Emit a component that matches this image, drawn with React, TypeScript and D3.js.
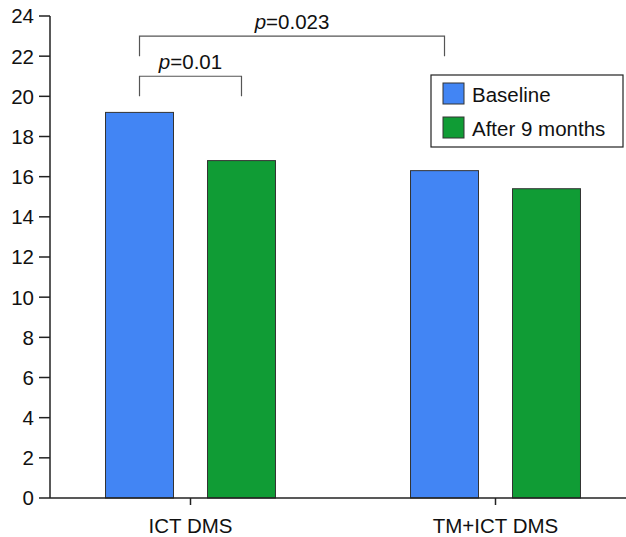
import React from "react";
import * as d3 from "d3";

const categories = ["ICT DMS", "TM+ICT DMS"];
const seriesNames = ["Baseline", "After 9 months"];
const baselineValues = [19.2, 16.3];
const afterValues = [16.8, 15.4];
const yTicks = [0, 2, 4, 6, 8, 10, 12, 14, 16, 18, 20, 22, 24];
const colors = ["#4285f4", "#109c35"];
const brackets = [
  { label: "0.01", from: [0, 0], to: [0, 1], yEnd: 20, yTop: 21 },
  { label: "0.023", from: [0, 0], to: [1, 0], yEnd: 22, yTop: 23 },
];

export default function App() {
  const W = 626, H = 537;
  const font = "Liberation Sans, Arial, sans-serif";
  const fs = 20.5;
  const y = d3.scaleLinear().domain([0, 24]).range([498, 16]);
  const x0 = d3.scaleBand<string>().domain(categories).range([38, 648]).padding(0);
  const x1 = d3.scaleBand<string>().domain(seriesNames).range([0, x0.bandwidth()]).paddingInner(1 / 3).paddingOuter(0.662);
  const values = [baselineValues, afterValues];
  const cx = (ci: number, si: number) => (x0(categories[ci]) as number) + (x1(seriesNames[si]) as number) + x1.bandwidth() / 2;
  const axisX = 50;
  return (
    <svg width={W} height={H} style={{ position: "absolute", left: 0, top: 0, background: "#fff" }} fontFamily={font}>
      {/* bars */}
      {categories.map((c, ci) =>
        seriesNames.map((s, si) => (
          <rect key={c + s}
            x={(x0(c) as number) + (x1(s) as number)}
            y={y(values[si][ci])}
            width={x1.bandwidth()}
            height={y(0) - y(values[si][ci])}
            fill={colors[si]} stroke="#333" strokeWidth={1} />
        ))
      )}
      {/* y axis */}
      <line x1={axisX} x2={axisX} y1={y(24)} y2={y(0)} stroke="#222" strokeWidth={1.5} />
      {yTicks.map((t) => (
        <g key={t}>
          <line x1={axisX - 11} x2={axisX} y1={y(t)} y2={y(t)} stroke="#222" strokeWidth={1.5} />
          <text x={axisX - 16} y={y(t)} dy="0.36em" textAnchor="end" fontSize={fs} fill="#111">{t}</text>
        </g>
      ))}
      {/* x axis */}
      <line x1={axisX} x2={W} y1={y(0)} y2={y(0)} stroke="#222" strokeWidth={1.5} />
      {categories.map((c) => {
        const xc = (x0(c) as number) + x0.bandwidth() / 2;
        return (
          <g key={c}>
            <line x1={xc} x2={xc} y1={y(0)} y2={y(0) + 7} stroke="#222" strokeWidth={1.5} />
            <text x={xc} y={533} textAnchor="middle" fontSize={fs} fill="#111">{c}</text>
          </g>
        );
      })}
      {/* brackets */}
      {brackets.map((b) => {
        const xa = cx(b.from[0], b.from[1]);
        const xb = cx(b.to[0], b.to[1]);
        return (
          <g key={b.label}>
            <path d={`M${xa},${y(b.yEnd)}V${y(b.yTop)}H${xb}V${y(b.yEnd)}`} fill="none" stroke="#555" strokeWidth={1.2} />
            <text x={(xa + xb) / 2} y={y(b.yTop) - 7.5} textAnchor="middle" fontSize={fs} fill="#111">
              <tspan fontStyle="italic">p</tspan>={b.label}
            </text>
          </g>
        );
      })}
      {/* legend */}
      <rect x={431} y={75} width={192} height={72} fill="#fff" stroke="#222" strokeWidth={1.2} />
      {seriesNames.map((s, i) => (
        <g key={s}>
          <rect x={443} y={83 + i * 34} width={21} height={21} fill={colors[i]} stroke="#333" strokeWidth={1} />
          <text x={472} y={101.5 + i * 34.5} fontSize={fs} fill="#111">{s}</text>
        </g>
      ))}
    </svg>
  );
}
